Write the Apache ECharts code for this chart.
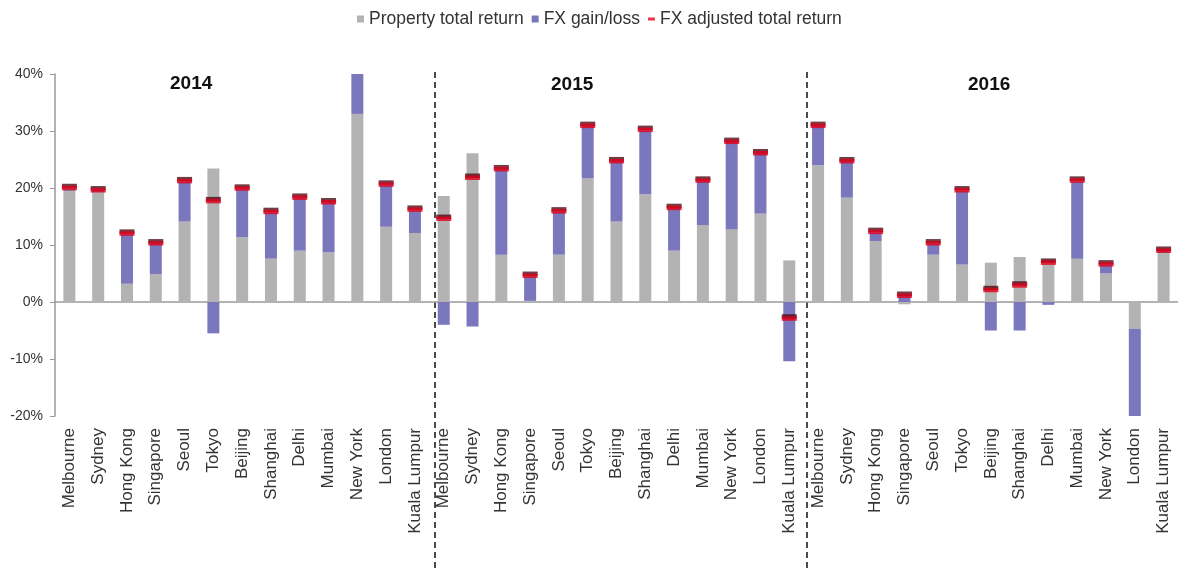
<!DOCTYPE html>
<html>
<head>
<meta charset="utf-8">
<title>Property and FX returns by city</title>
<script src="https://cdn.jsdelivr.net/npm/echarts@6/dist/echarts.min.js"></script>
<style>
    html, body { margin: 0; padding: 0; background: #fff; }
    #chart { width: 1178px; height: 570px; }
</style>
</head>
<body>
<div id="chart"></div>
<script>
// 城市和年份
const cities = ['Melbourne', 'Sydney', 'Hong Kong', 'Singapore', 'Seoul', 'Tokyo', 'Beijing',
    'Shanghai', 'Delhi', 'Mumbai', 'New York', 'London', 'Kuala Lumpur'];
const years = ['2014', '2015', '2016'];
const categories = cities.concat(cities, cities);

// 物业总回报 (%)
const propertyReturn = [
    19.5, 19.3, 3.2, 4.9, 14.1, 23.4, 11.4, 7.6, 9.0, 8.7, 33.0, 13.2, 12.1,
    18.6, 26.1, 8.3, 0.2, 8.3, 21.7, 14.1, 18.9, 9.0, 13.5, 12.7, 15.5, 7.3,
    24.0, 18.3, 10.7, -0.4, 8.3, 6.6, 6.9, 7.9, 7.4, 7.6, 5.0, -4.7, 8.6
];
// 汇兑损益 (%)
const fxGainLoss = [
    0.4, 0.3, 8.7, 5.4, 7.0, -5.5, 8.4, 8.1, 9.2, 8.8, 8.0, 7.3, 4.0,
    -4.0, -4.3, 15.0, 4.3, 7.5, 9.2, 10.6, 11.2, 7.5, 7.8, 15.4, 10.6, -10.4,
    6.9, 6.4, 1.5, 1.3, 1.9, 12.9, -5.0, -5.0, -0.5, 13.6, 1.5, -16.0, 0.5
];
// 汇率调整后总回报 (%)
const fxAdjustedReturn = [
    20.0, 19.6, 12.0, 10.3, 21.2, 17.7, 19.9, 15.8, 18.3, 17.5, 41.0, 20.6, 16.2,
    14.6, 21.8, 23.3, 4.6, 15.9, 30.9, 24.7, 30.2, 16.5, 21.3, 28.1, 26.1, -2.9,
    30.9, 24.7, 12.3, 1.1, 10.3, 19.6, 2.1, 2.9, 6.9, 21.3, 6.6, -20.7, 9.0
];

const yTicks = { min: -20, max: 40, interval: 10 };

document.addEventListener('DOMContentLoaded', function() {
    initReturnChart();
});

// 初始化回报图表
function initReturnChart() {
    const chart = echarts.init(document.getElementById('chart'));
    const textColor = '#333';
    const axisColor = '#9a9a9a';

    const option = {
        animation: false,
        textStyle: { fontFamily: 'Liberation Sans, Arial, sans-serif' },
        legend: {
            top: 5,
            left: 352,
            itemWidth: 7,
            itemHeight: 7,
            itemGap: 8,
            textStyle: { fontSize: 17.5, color: textColor },
            data: [
                { name: 'Property total return', icon: 'rect' },
                { name: 'FX gain/loss', icon: 'rect' },
                { name: 'FX adjusted total return', icon: 'path://M0,0H7V3H0Z' }
            ]
        },
        grid: {
            left: 55,
            right: -3,
            top: 74,
            bottom: 154
        },
        xAxis: [{
            type: 'category',
            data: categories,
            axisLine: { onZero: true, lineStyle: { color: axisColor, width: 1.5 } },
            axisTick: { interval: 0, length: 5, lineStyle: { color: axisColor } },
            axisLabel: { show: false }
        }, {
            type: 'category',
            data: categories,
            position: 'bottom',
            axisLine: { show: false },
            axisTick: { show: false },
            axisLabel: {
                interval: 0,
                rotate: 90,
                margin: 12,
                fontSize: 17,
                color: textColor
            }
        }],
        yAxis: {
            type: 'value',
            min: yTicks.min,
            max: yTicks.max,
            interval: yTicks.interval,
            splitLine: { show: false },
            axisLine: { show: true, lineStyle: { color: axisColor, width: 1.5 } },
            axisTick: { show: true, length: 5, lineStyle: { color: axisColor } },
            axisLabel: {
                formatter: '{value}%',
                fontSize: 14,
                color: textColor,
                margin: 12
            }
        },
        series: [{
            name: 'Property total return',
            type: 'bar',
            stack: 'ret',
            barWidth: 12,
            itemStyle: { color: '#b3b3b3' },
            data: propertyReturn
        }, {
            name: 'FX gain/loss',
            type: 'bar',
            stack: 'ret',
            barWidth: 12,
            itemStyle: { color: '#7b77bd' },
            data: fxGainLoss
        }, {
            name: 'FX adjusted total return',
            type: 'scatter',
            symbol: 'rect',
            symbolSize: [15, 4.5],
            clip: true,
            z: 5,
            itemStyle: {
                color: '#e2001a',
                shadowColor: 'rgba(70, 0, 10, 0.95)',
                shadowBlur: 0,
                shadowOffsetY: -2
            },
            emphasis: { disabled: true },
            data: fxAdjustedReturn
        }],
        graphic: [
            { type: 'text', left: 170, top: 74, style: { text: years[0], font: 'bold 19px Liberation Sans, Arial', fill: '#111' } },
            { type: 'text', left: 551, top: 75, style: { text: years[1], font: 'bold 19px Liberation Sans, Arial', fill: '#111' } },
            { type: 'text', left: 968, top: 75, style: { text: years[2], font: 'bold 19px Liberation Sans, Arial', fill: '#111' } },
            { type: 'line', shape: { x1: 435, y1: 72, x2: 435, y2: 570 }, style: { stroke: '#111', lineWidth: 1.5, lineDash: [6, 4] } },
            { type: 'line', shape: { x1: 807, y1: 72, x2: 807, y2: 570 }, style: { stroke: '#111', lineWidth: 1.5, lineDash: [6, 4] } }
        ]
    };

    chart.setOption(option);

    // 响应式
    window.addEventListener('resize', function() {
        chart.resize();
    });
}
</script>
</body>
</html>
